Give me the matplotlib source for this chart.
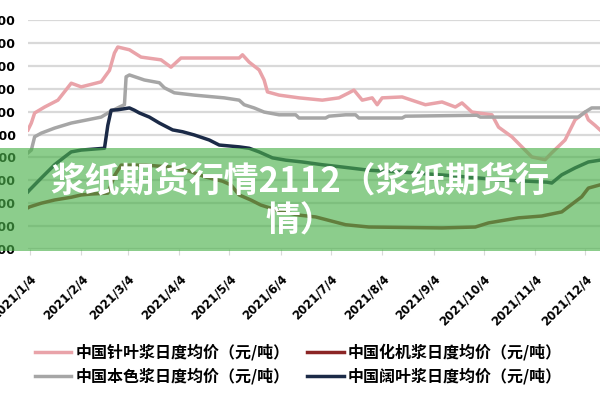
#!/usr/bin/env python3

'''
Daily average pulp prices in China during 2021, with the article banner on top.
'''

import pandas as pd
import matplotlib.pyplot as plt
from matplotlib.patches import Rectangle

plt.rcParams['font.family'] = ['Noto Sans CJK SC', 'DejaVu Sans']

# 中国针叶浆日度均价 (softwood)
softwood_dates = ['01-03', '01-05', '01-07', '01-13', '01-21', '01-29', '02-04',
                  '02-16', '02-21', '02-24', '02-26', '03-05', '03-12', '03-24',
                  '03-30', '04-05', '04-17', '05-10', '05-12', '05-16', '05-22',
                  '05-25', '05-27', '06-03', '06-15', '06-29', '07-09', '07-15',
                  '07-18', '07-23', '07-29', '08-01', '08-04', '08-16', '08-30',
                  '09-09', '09-17', '09-21', '09-27', '10-09', '10-13', '10-21',
                  '10-27', '11-02', '11-10', '11-14', '11-22', '11-28', '12-04',
                  '12-06', '12-10', '12-13']
softwood = [5600, 5750, 5970, 6100, 6250, 6620, 6540,
            6650, 6900, 7280, 7410, 7350, 7190, 7130,
            6970, 7170, 7170, 7170, 7240, 7080, 6910,
            6690, 6430, 6360, 6300, 6250, 6300, 6410,
            6470, 6250, 6300, 6150, 6300, 6320, 6150,
            6210, 6100, 6190, 5990, 5930, 5660, 5450,
            5230, 5010, 4950, 5100, 5380, 5820, 5990,
            5820, 5700, 5600]

# 中国本色浆日度均价 (unbleached)
unbleached_dates = ['01-03', '01-05', '01-07', '01-11', '01-19', '01-29', '02-16',
                    '02-21', '02-27', '03-02', '03-03', '03-05', '03-14', '03-23',
                    '03-26', '04-01', '04-13', '05-01', '05-10', '05-13', '05-19',
                    '05-25', '06-03', '06-13', '06-15', '07-01', '07-03', '07-13',
                    '07-19', '07-21', '08-16', '08-18', '09-30', '10-02', '11-30',
                    '12-04', '12-08', '12-13']
unbleached = [5100, 5160, 5450, 5530, 5640, 5750, 5880,
              5990, 6100, 6150, 6760, 6800, 6690, 6630,
              6520, 6410, 6360, 6300, 6250, 6150, 6080,
              5990, 5930, 5930, 5860, 5860, 5900, 5930,
              5930, 5860, 5860, 5900, 5920, 5880, 5880,
              5990, 6080, 6080]

# 中国化机浆日度均价 (chemi-mechanical)
cmp_dates = ['01-03', '01-04', '01-11', '01-19', '01-29', '02-04', '02-10',
             '02-20', '02-24', '02-28', '03-15', '03-30', '04-10', '04-20',
             '04-30', '05-05', '05-10', '05-17', '05-23', '06-05', '06-15',
             '06-25', '07-13', '07-27', '09-09', '09-29', '10-07', '10-25',
             '11-08', '11-20', '11-24', '12-02', '12-06', '12-13']
cmp = [3900, 3920, 4000, 4070, 4130, 4180, 4200,
       4220, 4600, 4830, 4830, 4790, 4700, 4570,
       4480, 4400, 4180, 4070, 3960, 3810, 3740,
       3700, 3530, 3480, 3460, 3480, 3570, 3680,
       3720, 3810, 3920, 4140, 4330, 4400]

# 中国阔叶浆日度均价 (hardwood)
hardwood_dates = ['01-03', '01-04', '01-11', '01-19', '01-25', '01-29', '02-04',
                  '02-18', '02-20', '02-22', '02-26', '03-05', '03-08', '03-11',
                  '03-17', '03-23', '03-31', '04-06', '04-13', '04-22', '04-28',
                  '05-10', '05-16', '05-22', '05-30', '06-07', '06-17', '06-29',
                  '07-11', '07-27', '08-16', '09-15', '10-14', '11-11', '11-14',
                  '11-20', '11-28', '12-06', '12-13']
hardwood = [4250, 4290, 4550, 4840, 5010, 5120, 5160,
            5200, 5700, 6030, 6040, 6080, 6030, 5970,
            5880, 5750, 5600, 5560, 5490, 5380, 5270,
            5230, 5200, 5120, 4990, 4940, 4900, 4840,
            4790, 4720, 4680, 4600, 4510, 4460, 4440,
            4620, 4770, 4900, 4940]

series_labels = ['中国针叶浆日度均价（元/吨）', '中国本色浆日度均价（元/吨）',
                 '中国化机浆日度均价（元/吨）', '中国阔叶浆日度均价（元/吨）']
series_colors = ['#e9a3a9', '#a6a6a6', '#8b2525', '#1b2a47']

tick_dates = ['2021/%d/4' % m for m in range(1, 13)]
y_ticks = list(range(3000, 8001, 500))

title = '浆纸期货行情2112（浆纸期货行\n情）'


def to_dates(days):
    return pd.to_datetime(['2021-' + d for d in days])


fig = plt.figure(figsize=(6, 4), dpi=100)
ax = fig.add_axes([28 / 600, 1 - 249 / 400, 572 / 600, 229 / 400])

all_series = [(softwood_dates, softwood), (unbleached_dates, unbleached),
              (cmp_dates, cmp), (hardwood_dates, hardwood)]
handles = []
for (days, values), label, color in zip(all_series, series_labels, series_colors):
    line, = ax.plot(to_dates(days), values, color=color, lw=2.5, label=label)
    handles.append(line)

ax.set_xlim(pd.Timestamp('2021-01-03'), pd.Timestamp('2021-12-13'))
ax.set_ylim(3000, 8000)
ax.set_yticks(y_ticks)
# the source image is cropped, so only the last digits of these show
ax.set_yticklabels([str(v) for v in y_ticks], fontsize=9, fontweight='bold',
                   family='DejaVu Sans')
ax.grid(axis='y', color='#d9d9d9', lw=1.6)
ax.set_axisbelow(True)
for spine in ax.spines.values():
    spine.set_visible(False)
ax.tick_params(axis='y', length=0, pad=9)

ax.set_xticks(pd.to_datetime(tick_dates, format='%Y/%m/%d'))
ax.set_xticklabels(tick_dates, fontsize=8.5, fontweight='bold', family='DejaVu Sans')
ax.tick_params(axis='x', length=4, color='#d9d9d9', pad=13)
plt.setp(ax.get_xticklabels(), rotation=45, ha='right', rotation_mode='anchor')

fig.legend(handles, series_labels, ncol=2, loc='center',
           bbox_to_anchor=(0.497, 0.09), frameon=False,
           prop={'size': 11.5, 'weight': 'bold'}, handlelength=2.3,
           handletextpad=0.25, columnspacing=1.1, labelspacing=0.45)

# green article banner laid over the chart
fig.patches.append(Rectangle((0, 1 - 251 / 400), 1, 103 / 400,
                             transform=fig.transFigure, facecolor='#4bb14b',
                             alpha=0.64, edgecolor='none', zorder=5))
fig.text(0.5, 1 - 201 / 400, title, color='white', fontsize=25,
         fontweight='bold', ha='center', va='center', linespacing=1.17,
         zorder=6)

fig.savefig('out.png', dpi=100)
